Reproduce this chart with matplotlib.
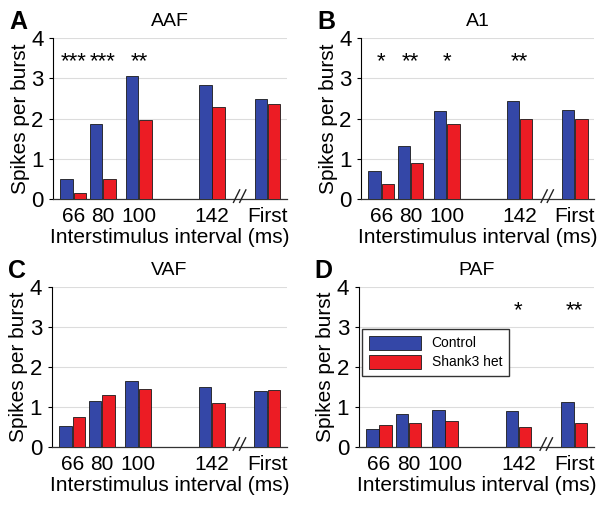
import matplotlib.pyplot as plt
import numpy as np

plt.rcParams['font.family'] = ['Liberation Sans', 'DejaVu Sans']

# Interstimulus intervals (ms) plus the first stimulus
categories = ['66', '80', '100', '142', 'First']

aaf_control = [0.51, 1.87, 3.06, 2.84, 2.48]
aaf_shank3 = [0.16, 0.51, 1.97, 2.29, 2.36]
aaf_stars = ['***', '***', '**', '', '']

a1_control = [0.71, 1.32, 2.19, 2.44, 2.21]
a1_shank3 = [0.37, 0.89, 1.87, 2.00, 1.98]
a1_stars = ['*', '**', '*', '**', '']

vaf_control = [0.53, 1.16, 1.66, 1.51, 1.39]
vaf_shank3 = [0.75, 1.30, 1.46, 1.11, 1.42]
vaf_stars = ['', '', '', '', '']

paf_control = [0.46, 0.83, 0.93, 0.91, 1.13]
paf_shank3 = [0.55, 0.60, 0.66, 0.51, 0.60]
paf_stars = ['', '', '', '*', '**']

BLUE = '#3447a7'
RED = '#ec1c24'

# group centres along the x axis (irregular spacing, break before "First")
xpos = np.array([0.0, 0.95, 2.12, 4.48, 6.27])
width = 0.40
xbreak = (xpos[3] + xpos[4]) / 2

panels = [
    ('A', 'AAF', aaf_control, aaf_shank3, aaf_stars, [0.088, 0.608, 0.387, 0.317]),
    ('B', 'A1', a1_control, a1_shank3, a1_stars, [0.598, 0.608, 0.386, 0.317]),
    ('C', 'VAF', vaf_control, vaf_shank3, vaf_stars, [0.086, 0.120, 0.389, 0.315]),
    ('D', 'PAF', paf_control, paf_shank3, paf_stars, [0.594, 0.120, 0.389, 0.315]),
]

fig = plt.figure(figsize=(6.04, 5.08), dpi=100)

for letter, title, ctrl, het, stars, rect in panels:
    ax = fig.add_axes(rect)
    ax.bar(xpos - 0.215, ctrl, width, color=BLUE, edgecolor='#1a1a1a',
           linewidth=0.6, label='Control', zorder=3)
    ax.bar(xpos + 0.215, het, width, color=RED, edgecolor='#1a1a1a',
           linewidth=0.6, label='Shank3 het', zorder=3)

    for x, s in zip(xpos, stars):
        if s:
            ax.text(x, 3.42, s, ha='center', va='center', fontsize=16)

    ax.set_ylim(0, 4)
    ax.set_xlim(-0.65, 6.9)
    ax.set_yticks([0, 1, 2, 3, 4])
    ax.set_xticks(xpos)
    ax.set_xticklabels(categories)
    ax.tick_params(axis='y', labelsize=16, length=3, width=0.8, pad=4)
    ax.tick_params(axis='x', labelsize=15, length=0, pad=6)
    ax.yaxis.grid(True, color='#dcdcdc', linewidth=0.8, zorder=0)
    ax.set_axisbelow(True)
    for side in ['top', 'right']:
        ax.spines[side].set_visible(False)
    ax.spines['left'].set_linewidth(0.8)
    ax.spines['bottom'].set_linewidth(0.9)
    ax.spines['bottom'].set_color('#333333')

    ax.set_xlabel('Interstimulus interval (ms)', fontsize=15, labelpad=1)
    ax.set_ylabel('Spikes per burst', fontsize=15, labelpad=1)
    ax.set_title(title, fontsize=14, pad=9)

    # axis-break marks
    for dx in (-0.1, 0.1):
        ax.plot([xbreak + dx - 0.1, xbreak + dx + 0.1], [-0.08, 0.23],
                color='#222222', linewidth=1.0, clip_on=False, zorder=5)

    pos = ax.get_position()
    fig.text(pos.x0 - 0.073, pos.y1 + 0.055, letter, fontsize=18,
             fontweight='bold', ha='left', va='top')

    if letter == 'D':
        ax.legend(loc='upper left', bbox_to_anchor=(0.015, 0.74), fontsize=10,
                  frameon=True, fancybox=False, edgecolor='#333333',
                  framealpha=1, handlelength=3.7, handleheight=1.2,
                  borderpad=0.5, labelspacing=0.3, borderaxespad=0)

fig.savefig('out.png', dpi=100, facecolor='white')
